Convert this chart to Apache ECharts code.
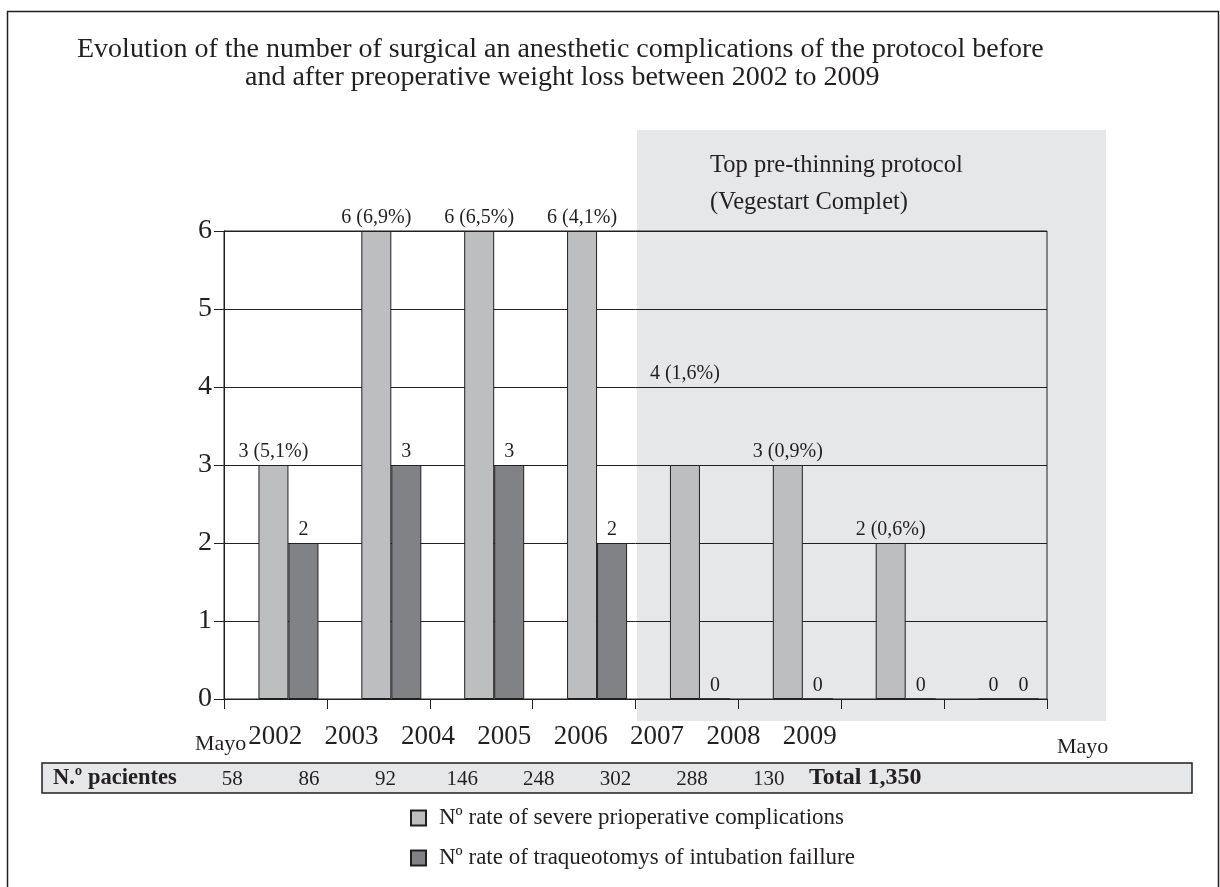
<!DOCTYPE html>
<html>
<head>
<meta charset="utf-8">
<title>Complications 2002-2009</title>
<script src="https://cdn.jsdelivr.net/npm/echarts@6/dist/echarts.min.js"></script>
<style>
  html, body { margin: 0; padding: 0; background: #fff; }
  #chart { width: 1220px; height: 887px; }
</style>
</head>
<body>
<div id="chart"></div>
<script>
// data
const yearLabels = ['2002', '2003', '2004', '2005', '2006', '2007', '2008', '2009'];
const severeValues = [3, 6, 6, 6, 3, 3, 2, 0];
const severeLabels = ['3 (5,1%)', '6 (6,9%)', '6 (6,5%)', '6 (4,1%)', '4 (1,6%)', '3 (0,9%)', '2 (0,6%)', '0'];
const traqValues = [2, 3, 3, 2, 0, 0, 0, 0];
const patients = ['58', '86', '92', '146', '248', '302', '288', '130'];
const patientsTotal = 'Total 1,350';
const seriesNames = ['Nº rate of severe prioperative complications', 'Nº rate of traqueotomys of intubation faillure'];

const FONT = "'Liberation Serif', 'Times New Roman', serif";
const INK = '#231f20';

const chart = echarts.init(document.getElementById('chart'));

const option = {
  backgroundColor: '#fff',
  textStyle: { fontFamily: FONT, color: INK },
  title: [
    {
      text: 'Evolution of the number of surgical an anesthetic complications of the protocol before',
      left: 72, top: 31,
      textStyle: { fontFamily: FONT, fontWeight: 'normal', fontSize: 28, color: INK }
    },
    {
      text: 'and after preoperative weight loss between 2002 to 2009',
      left: 240, top: 59,
      textStyle: { fontFamily: FONT, fontWeight: 'normal', fontSize: 28, color: INK }
    }
  ],
  legend: {
    data: seriesNames,
    orient: 'vertical',
    left: 405, top: 801,
    itemWidth: 15, itemHeight: 15, itemGap: 16,
    icon: 'rect',
    selectedMode: false,
    textStyle: { fontFamily: FONT, fontSize: 23, color: INK, lineHeight: 24, padding: [0, 0, 0, 8] }
  },
  grid: [
    { left: 224, right: 173, top: 231, bottom: 188, show: true, borderColor: INK, borderWidth: 1, backgroundColor: 'transparent' },
    { left: 237, width: 611, top: 698, height: 2, show: false },
    { left: 194, width: 613, top: 761, height: 2, show: false }
  ],
  xAxis: [
    {
      gridIndex: 0, type: 'category', data: yearLabels,
      axisLine: { lineStyle: { color: INK, width: 1 } },
      axisTick: { show: true, length: 10, interval: 0, lineStyle: { color: INK } },
      axisLabel: { show: false },
      splitLine: { show: false }
    },
    {
      gridIndex: 1, type: 'category', data: yearLabels,
      axisLine: { show: false }, axisTick: { show: false },
      axisLabel: { margin: 23, fontFamily: FONT, fontSize: 27, color: INK, interval: 0 }
    },
    {
      gridIndex: 2, type: 'category', data: patients,
      axisLine: { show: false }, axisTick: { show: false },
      axisLabel: { margin: 6, fontFamily: FONT, fontSize: 21, color: INK, interval: 0 }
    }
  ],
  yAxis: [
    {
      gridIndex: 0, type: 'value', min: 0, max: 6, interval: 1,
      axisLine: { show: true, lineStyle: { color: INK, width: 1 } },
      axisTick: { show: true, length: 10, lineStyle: { color: INK } },
      axisLabel: { margin: 12, fontFamily: FONT, fontSize: 28, color: INK },
      splitLine: { lineStyle: { color: INK, width: 1 } }
    },
    { gridIndex: 1, type: 'value', show: false },
    { gridIndex: 2, type: 'value', show: false }
  ],
  series: [
    {
      // empty column that pushes the pair of bars right of the slot centre
      name: 'offset', type: 'bar', barWidth: 26, barGap: '0%', data: [], silent: true
    },
    {
      name: seriesNames[0], type: 'bar', barWidth: 30, barGap: '0%',
      itemStyle: { color: '#bcbec0', borderColor: INK, borderWidth: 1 },
      label: {
        show: true, position: 'top', distance: 3,
        fontFamily: FONT, fontSize: 20, color: INK,
        formatter: p => severeLabels[p.dataIndex]
      },
      data: severeValues.map((v, i) => i === 4 ? { value: v, label: { offset: [0, -78] } } : v)
    },
    {
      name: seriesNames[1], type: 'bar', barWidth: 30, barGap: '0%',
      itemStyle: { color: '#808285', borderColor: INK, borderWidth: 1 },
      label: { show: true, position: 'top', distance: 3, fontFamily: FONT, fontSize: 20, color: INK },
      data: traqValues
    }
  ],
  graphic: [
    {
      type: 'rect', z: -10, silent: true,
      shape: { x: 637, y: 130, width: 469, height: 591 },
      style: { fill: '#e6e7e8' }
    },
    {
      type: 'text', z: 10, left: 850 - 140, top: 147, silent: true,
      style: {
        text: 'Top pre-thinning protocol\n(Vegestart Complet)',
        width: 280, align: 'center', x: 140,
        font: '24.5px ' + FONT, fill: INK, lineHeight: 37
      }
    },
    {
      type: 'text', silent: true, left: 195, top: 733,
      style: { text: 'Mayo', font: '22px ' + FONT, fill: INK }
    },
    {
      type: 'text', silent: true, left: 1057, top: 736,
      style: { text: 'Mayo', font: '22px ' + FONT, fill: INK }
    },
    {
      type: 'rect', z: -10, silent: true,
      shape: { x: 42, y: 763, width: 1150, height: 30 },
      style: { fill: '#e6e7e8', stroke: INK, lineWidth: 1.5 }
    },
    {
      type: 'text', silent: true, left: 53, top: 767,
      style: { text: 'N.º pacientes', font: 'bold 22.5px ' + FONT, fill: INK }
    },
    {
      type: 'text', silent: true, left: 809, top: 766,
      style: { text: patientsTotal, font: 'bold 24px ' + FONT, fill: INK }
    },
    {
      type: 'rect', silent: true,
      shape: { x: 7.5, y: 11.5, width: 1211, height: 900 },
      style: { fill: 'none', stroke: INK, lineWidth: 1.5 }
    }
  ]
};

chart.setOption(option);
</script>
</body>
</html>
